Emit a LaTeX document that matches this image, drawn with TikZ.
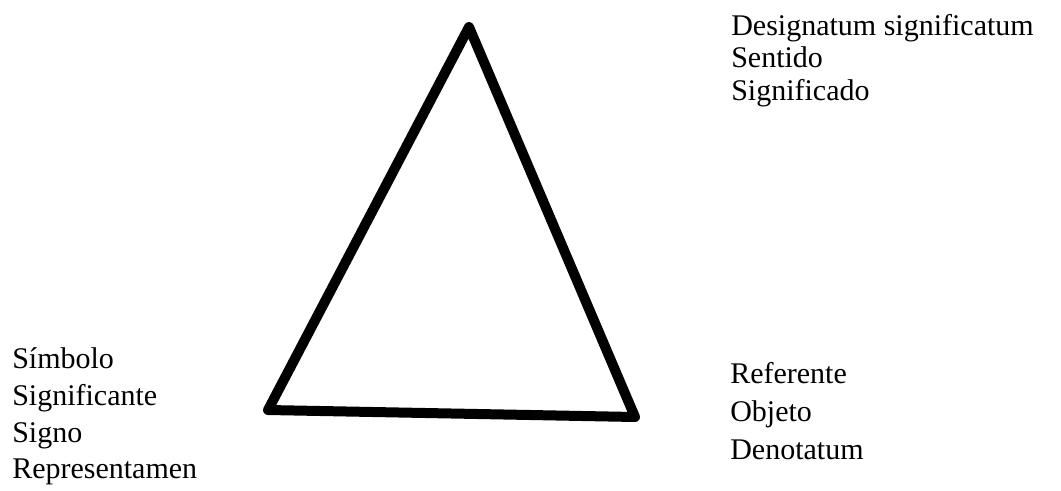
\documentclass[tikz,border=0pt]{standalone}
\usepackage{fontspec}
\setmainfont{Liberation Serif}
\begin{document}
\begin{tikzpicture}[x=0.75pt,y=-0.75pt,
  lbl/.style={anchor=base west,inner sep=0pt,font=\fontsize{22.5}{27}\selectfont},
  tri/.style={line width=7.5pt,line join=round,line cap=round}]
\useasboundingbox (0,0) rectangle (1061,490);
\coordinate (T) at (469,27);
\coordinate (L) at (268,410);
\coordinate (R) at (635,417);
\draw[tri] (T) -- (L) -- (R) -- cycle;
% top right
\node[lbl] (d1) at (731,35) {Designatum significatum};
\node[lbl] (d2) at (731,67.5) {Sentido};
\node[lbl] (d3) at (731,100) {Significado};
% left
\node[lbl] (s1) at (12,368) {Símbolo};
\node[lbl] (s2) at (12,405) {Significante};
\node[lbl] (s3) at (12,442) {Signo};
\node[lbl] (s4) at (12,478) {Representamen};
% bottom right
\node[lbl] (r1) at (730,383) {Referente};
\node[lbl] (r2) at (730,421) {Objeto};
\node[lbl] (r3) at (730,459) {Denotatum};
\end{tikzpicture}
\end{document}
